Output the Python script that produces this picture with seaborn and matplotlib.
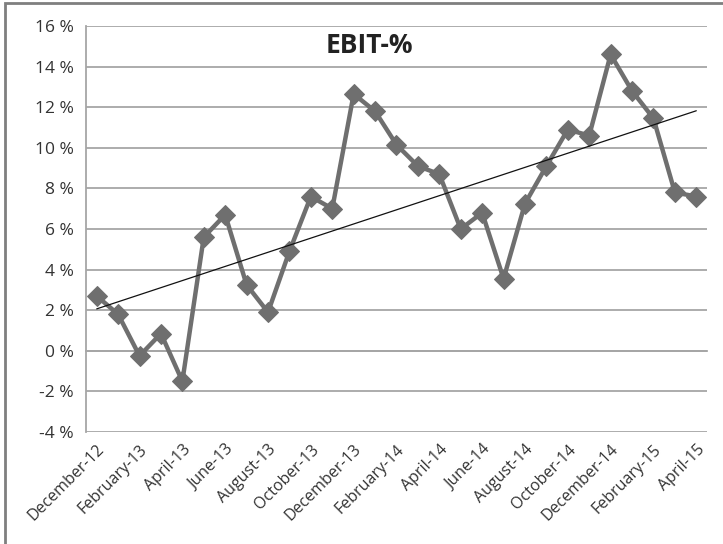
import numpy as np
import pandas as pd
from matplotlib import pyplot as plt
from matplotlib.patches import Rectangle
import seaborn as sns

months = ['December-12', 'January-13', 'February-13', 'March-13', 'April-13', 'May-13',
          'June-13', 'July-13', 'August-13', 'September-13', 'October-13', 'November-13',
          'December-13', 'January-14', 'February-14', 'March-14', 'April-14', 'May-14',
          'June-14', 'July-14', 'August-14', 'September-14', 'October-14', 'November-14',
          'December-14', 'January-15', 'February-15', 'March-15', 'April-15']
ebit = [2.7, 1.8, -0.25, 0.85, -1.5, 5.6, 6.7, 3.25, 1.9, 4.9, 7.6, 7.0,
        12.65, 11.8, 10.15, 9.1, 8.7, 6.0, 6.8, 3.55, 7.25, 9.1, 10.9, 10.6,
        14.6, 12.8, 11.45, 7.8, 7.6]
y_ticks = [-4, -2, 0, 2, 4, 6, 8, 10, 12, 14, 16]

df = pd.DataFrame({'idx': np.arange(len(months)), 'month': months, 'ebit': ebit})

sns.set_style('white')
plt.rcParams['font.family'] = ['Open Sans', 'DejaVu Sans']

fig = plt.figure(figsize=(7.23, 5.44), dpi=100)
ax = fig.add_axes([86 / 723, 1 - 432 / 544, 621 / 723, 406 / 544])

grid_c = '#a6a6a6'
line_c = '#6f6f6f'

# 网格线
ax.set_ylim(-4, 16)
ax.set_yticks(y_ticks)
ax.set_yticklabels([f'{v} %' for v in y_ticks], fontsize=12.5, color='#333333')
ax.yaxis.grid(True, color=grid_c, lw=1.3)
ax.set_axisbelow(True)
ax.tick_params(axis='y', length=6, width=1.3, color=grid_c, pad=3)

ax.set_xlim(-0.5, len(months) - 0.5)
for s in ['top', 'right']:
    ax.spines[s].set_visible(False)
ax.spines['left'].set_color(grid_c)
ax.spines['left'].set_linewidth(1.3)
ax.spines['bottom'].set_position(('data', 0))
ax.spines['bottom'].set_color(grid_c)
ax.spines['bottom'].set_linewidth(1.3)
ax.set_xticks(np.arange(1.5, len(months), 2))
ax.set_xticklabels([])
ax.tick_params(axis='x', length=6, width=1.3, color=grid_c, direction='out')

# 数据曲线
sns.lineplot(data=df, x='idx', y='ebit', ax=ax, color=line_c, lw=3.2,
             marker='D', markersize=10.5, markeredgecolor=line_c, zorder=3)

# 趋势线
k, b = np.polyfit(df['idx'], df['ebit'], 1)
ax.plot(df['idx'], k * df['idx'] + b, color='#111111', lw=0.9, zorder=4)

ax.set_xlabel('')
ax.set_ylabel('')

# 横轴标签
sec = ax.secondary_xaxis('bottom')
sec.set_xticks(np.arange(0, len(months), 2))
sec.set_xticklabels(months[::2], rotation=45, ha='right', rotation_mode='anchor',
                    fontsize=11.5, color='#333333')
sec.tick_params(length=0, pad=7)
sec.spines['bottom'].set_visible(False)

ax.text(0.457, 0.985, 'EBIT-%', transform=ax.transAxes, ha='center', va='top',
        fontsize=19, fontweight='bold', color='#222222')

fig.patches.append(Rectangle((5 / 723, -0.1), 1.2, 1.1 - 3.5 / 544,
                             transform=fig.transFigure, fill=False,
                             edgecolor='#7f7f7f', lw=2))

fig.savefig('out.png', dpi=100)
